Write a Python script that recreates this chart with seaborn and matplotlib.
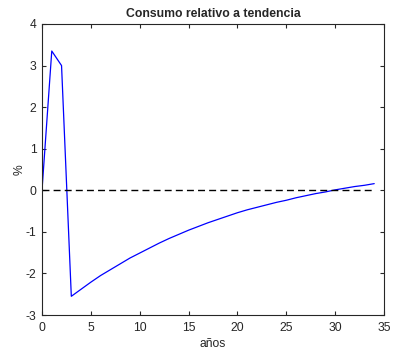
import numpy as np
import pandas as pd
import matplotlib
matplotlib.use("Agg")
import matplotlib.pyplot as plt
import seaborn as sns

years = list(range(0, 35))
consumo = [0.00, 3.35, 3.00, -2.55, -2.38, -2.21, -2.05, -1.91, -1.77, -1.63,
           -1.51, -1.39, -1.27, -1.16, -1.06, -0.96, -0.87, -0.78, -0.70, -0.62,
           -0.54, -0.47, -0.41, -0.35, -0.29, -0.24, -0.18, -0.13, -0.08, -0.04,
           0.01, 0.05, 0.09, 0.12, 0.16]
ref_x = [0, 34]
ref_y = [0, 0]
xticks = [0, 5, 10, 15, 20, 25, 30, 35]
yticks = [-3, -2, -1, 0, 1, 2, 3, 4]

sns.set_style("white")
plt.rcParams['font.family'] = ['Liberation Sans', 'DejaVu Sans']
plt.rcParams['axes.unicode_minus'] = False

df = pd.DataFrame({"anos": years, "consumo": consumo})

fig = plt.figure(figsize=(3.97, 3.54), dpi=100)
ax = fig.add_axes([42/397, 1-315/354, (384-42)/397, (315-24)/354])
sns.lineplot(data=df, x="anos", y="consumo", ax=ax, color="#0000ff", linewidth=0.9)
ax.plot(ref_x, ref_y, linestyle=(0, (5, 3)), color="black", linewidth=1.0)

ax.set_xlim(0, 35)
ax.set_ylim(-3, 4)
ax.set_xticks(xticks)
ax.set_yticks(yticks)
ax.tick_params(direction="in", length=3, width=0.8, colors="#262626",
               labelsize=8.7, top=True, right=True, bottom=True, left=True)
ax.tick_params(axis="x", pad=5)
ax.tick_params(axis="y", pad=4)
for s in ax.spines.values():
    s.set_color("#262626")
    s.set_linewidth(0.8)
ax.set_xlabel("años", fontsize=8.7, color="#262626", labelpad=3)
ax.set_ylabel("%", fontsize=8.7, color="#262626", labelpad=0)
ax.set_title("Consumo relativo a tendencia", fontsize=8.8, fontweight="bold", pad=5)

fig.savefig("out.png", dpi=100)
